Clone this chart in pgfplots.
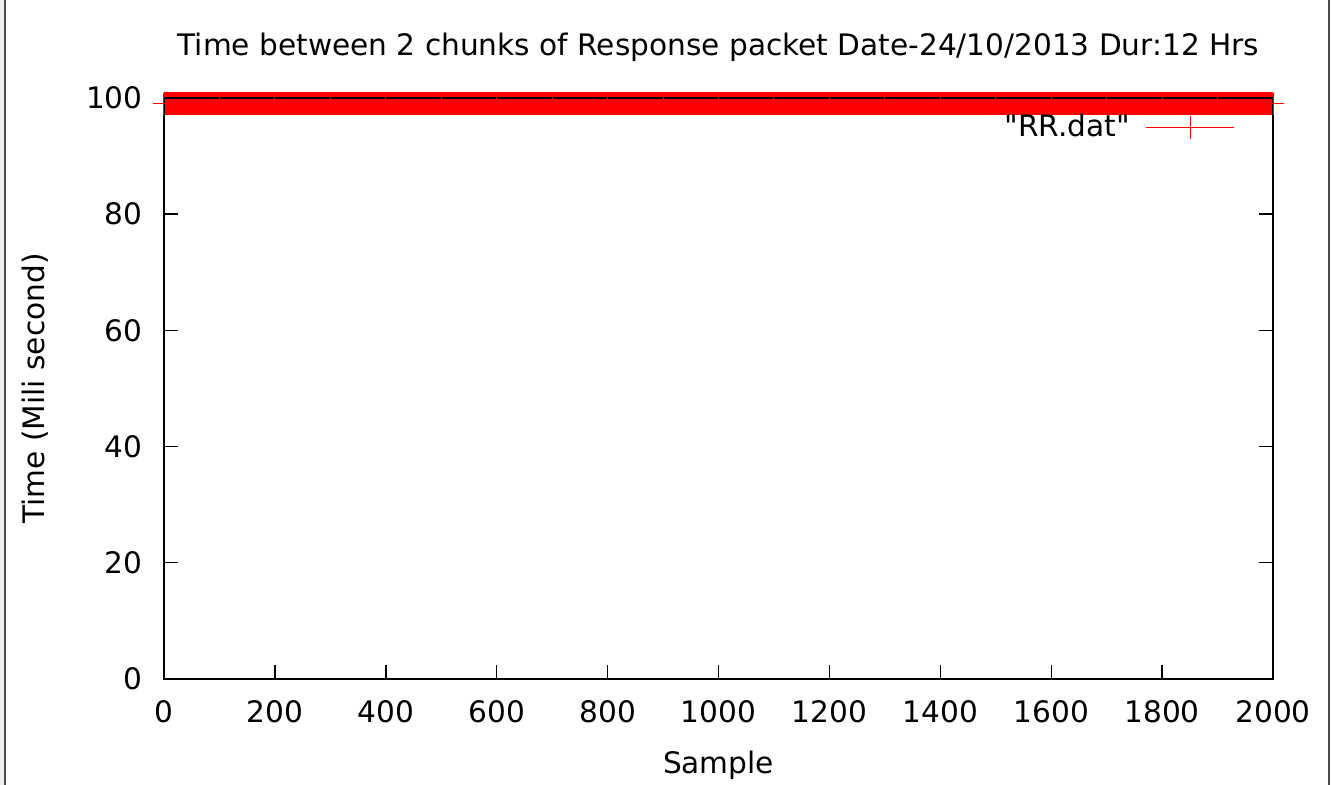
\documentclass[border=0pt]{standalone}
\usepackage{fontspec}
\setmainfont{DejaVu Sans}[Ligatures=TeXOff]
\usepackage{pgfplots}
\pgfplotsset{compat=1.18}
\pgfplotstableread{
x y
0 99
100 99
200 99
300 99
400 99
500 99
600 99
700 99
800 99
900 99
1000 99
1100 99
1200 99
1300 99
1400 99
1500 99
1600 99
1700 99
1800 99
1900 99
2000 99
}\rrdata
\begin{document}
\fontsize{14.8pt}{17pt}\selectfont
\begin{tikzpicture}
\useasboundingbox (-82pt,-53pt) rectangle (583.5pt,339.5pt);
\fill[gray!12] (-82pt,-53pt) rectangle (-80pt,339.5pt);
\draw[gray!60!black, line width=1pt] (-79.5pt,-53pt) -- (-79.5pt,339.5pt);
\draw[gray!60!black, line width=1.1pt] (582.3pt,-53pt) -- (582.3pt,339.5pt);
\begin{axis}[
  at={(0pt,0pt)}, anchor=origin,
  scale only axis,
  width=554.5pt, height=290.5pt,
  xmin=0, xmax=2000, ymin=0, ymax=100,
  xtick={0,200,...,2000}, ytick={0,20,...,100},
  tick align=inside, major tick length=7pt,
  xtick pos=bottom, ytick pos=both,
  axis line style={line width=0.7pt},
  every tick/.style={black, line width=0.7pt},
  /pgf/number format/assume math mode=true,
  /pgf/number format/1000 sep={},
  xticklabel style={anchor=base, inner sep=0pt, yshift=-22pt},
  yticklabel style={anchor=east, inner sep=0pt, xshift=-10.5pt},
  title={Time between 2 chunks of Response packet Date-24/10/2013 Dur:12 Hrs},
  title style={at={(axis description cs:0.5,1)}, anchor=base, inner sep=0pt, yshift=15pt},
  xlabel={Sample},
  xlabel style={at={(axis description cs:0.5,0)}, anchor=base, inner sep=0pt, yshift=-47.5pt},
  ylabel={Time (Mili second)},
  ylabel style={at={(axis description cs:0,0.5)}, anchor=base, inner sep=0pt, yshift=59.5pt},
  clip=false,
  axis on top,
  legend plot pos=right,
  legend style={draw=none, fill=none, inner sep=0pt, outer sep=0pt,
    at={(axis description cs:0.9657,0.9484)}, anchor=east,
    nodes={inner sep=0pt}, column sep=8pt},
]
\addplot[red, line width=11.35pt, no markers, forget plot] table[x=x, y=y] {\rrdata};
\addplot[draw=red, line width=0.5pt, only marks, mark=+, mark size=5.6pt,
  mark options={draw=red, solid, line width=0.5pt},
  legend image code/.code={
    \draw[draw=red, line width=0.5pt]
      (0pt,0pt) -- (44pt,0pt)
      (22pt,-5.75pt) -- (22pt,5.75pt);}]
  table[x=x, y=y] {\rrdata};
\addlegendentry{"RR.dat"}
\end{axis}
\end{tikzpicture}
\end{document}
